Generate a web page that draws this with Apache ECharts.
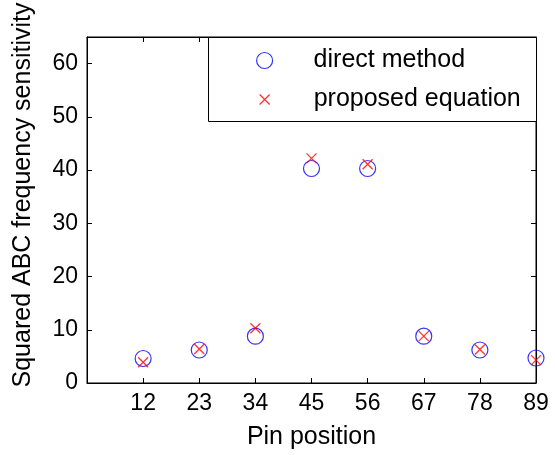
<!DOCTYPE html>
<html>
<head>
<meta charset="utf-8">
<script src="https://cdn.jsdelivr.net/npm/echarts@6/dist/echarts.min.js"></script>
<style>
  html, body { margin: 0; padding: 0; background: #fff; }
  #chart { width: 555px; height: 455px; }
</style>
</head>
<body>
<div id="chart"></div>
<script>
// pin positions, placed at x = 2..9 on the axis (x = 1 is an empty slot)
const pins = ['12', '23', '34', '45', '56', '67', '78', '89']
const directMethod = [4.6, 6.2, 8.8, 40.3, 40.3, 8.8, 6.2, 4.7]
const proposedEquation = [3.9, 6.4, 10.3, 42.2, 41.1, 8.8, 6.3, 4.3]
const yTicks = [0, 10, 20, 30, 40, 50, 60]

const font = 'Liberation Sans, Arial, sans-serif'
const toPoints = vals => vals.map((v, i) => [i + 2, v])
const crossPath = 'path://M0,0L10,10M10,0L0,10'

const chart = echarts.init(document.getElementById('chart'), null, { renderer: 'canvas' })

const frameLine = { show: true, onZero: false, lineStyle: { color: '#000', width: 1 } }
const inTick = { show: true, inside: true, length: 5, lineStyle: { color: '#000' } }

const baseX = {
  type: 'value', min: 1, max: 9, interval: 1,
  axisLine: frameLine, axisTick: inTick, splitLine: { show: false },
}
const baseY = {
  type: 'value', min: 0, max: 65, interval: 10,
  axisLine: frameLine, axisTick: inTick, splitLine: { show: false },
}

chart.setOption({
  animation: false,
  backgroundColor: '#fff',
  grid: {
    left: 87, right: 19, top: 37, bottom: 71,
    show: true, borderColor: '#000', borderWidth: 1, backgroundColor: 'rgba(0,0,0,0)',
  },
  xAxis: [
    Object.assign({}, baseX, {
      position: 'bottom',
      name: 'Pin position', nameLocation: 'middle', nameGap: 42,
      nameTextStyle: { fontFamily: font, fontSize: 25, color: '#000' },
      axisLabel: {
        fontFamily: font, fontSize: 23, color: '#000', margin: 9,
        formatter: v => pins[v - 2] || '',
      },
    }),
    Object.assign({}, baseX, { position: 'top', axisLabel: { show: false } }),
  ],
  yAxis: [
    Object.assign({}, baseY, {
      position: 'left',
      name: 'Squared ABC frequency sensitivity', nameLocation: 'middle', nameGap: 51,
      nameTextStyle: { fontFamily: font, fontSize: 25, color: '#000', padding: [0, 0, 0, 30] },
      axisLabel: {
        fontFamily: font, fontSize: 23, color: '#000', margin: 9,
        formatter: v => (yTicks.indexOf(v) >= 0 ? String(v) : ''),
      },
    }),
    Object.assign({}, baseY, { position: 'right', axisLabel: { show: false } }),
  ],
  legend: [
    {
      data: [{ name: 'direct method', itemStyle: { color: 'rgba(0,0,0,0)', borderColor: '#0000ff', borderWidth: 1.2 } }],
      orient: 'vertical', left: 256, top: 48, padding: 0,
      itemWidth: 16, itemHeight: 16,
      textStyle: { fontFamily: font, fontSize: 25, color: '#000', padding: [0, 0, 0, 36] },
      selectedMode: false, z: 10,
    },
    {
      data: [{ name: 'proposed equation', itemStyle: { color: 'rgba(0,0,0,0)', borderColor: '#ff0000', borderWidth: 1.3 } }],
      orient: 'vertical', left: 259, top: 87, padding: 0,
      itemWidth: 10, itemHeight: 10,
      textStyle: { fontFamily: font, fontSize: 25, color: '#000', padding: [0, 0, 0, 39] },
      selectedMode: false, z: 10,
    },
  ],
  graphic: [{
    type: 'rect', left: 208, top: 37, z: 5,
    shape: { width: 328, height: 84 },
    style: { fill: '#fff', stroke: '#000', lineWidth: 1 },
  }],
  series: [
    {
      name: 'direct method', type: 'scatter', data: toPoints(directMethod),
      symbol: 'circle', symbolSize: 16,
      itemStyle: { color: 'rgba(0,0,0,0)', borderColor: '#0000ff', borderWidth: 1.2 },
    },
    {
      name: 'proposed equation', type: 'scatter', data: toPoints(proposedEquation),
      symbol: crossPath, symbolSize: 10,
      itemStyle: { color: 'rgba(0,0,0,0)', borderColor: '#ff0000', borderWidth: 1.3 },
    },
  ],
})
</script>
</body>
</html>
